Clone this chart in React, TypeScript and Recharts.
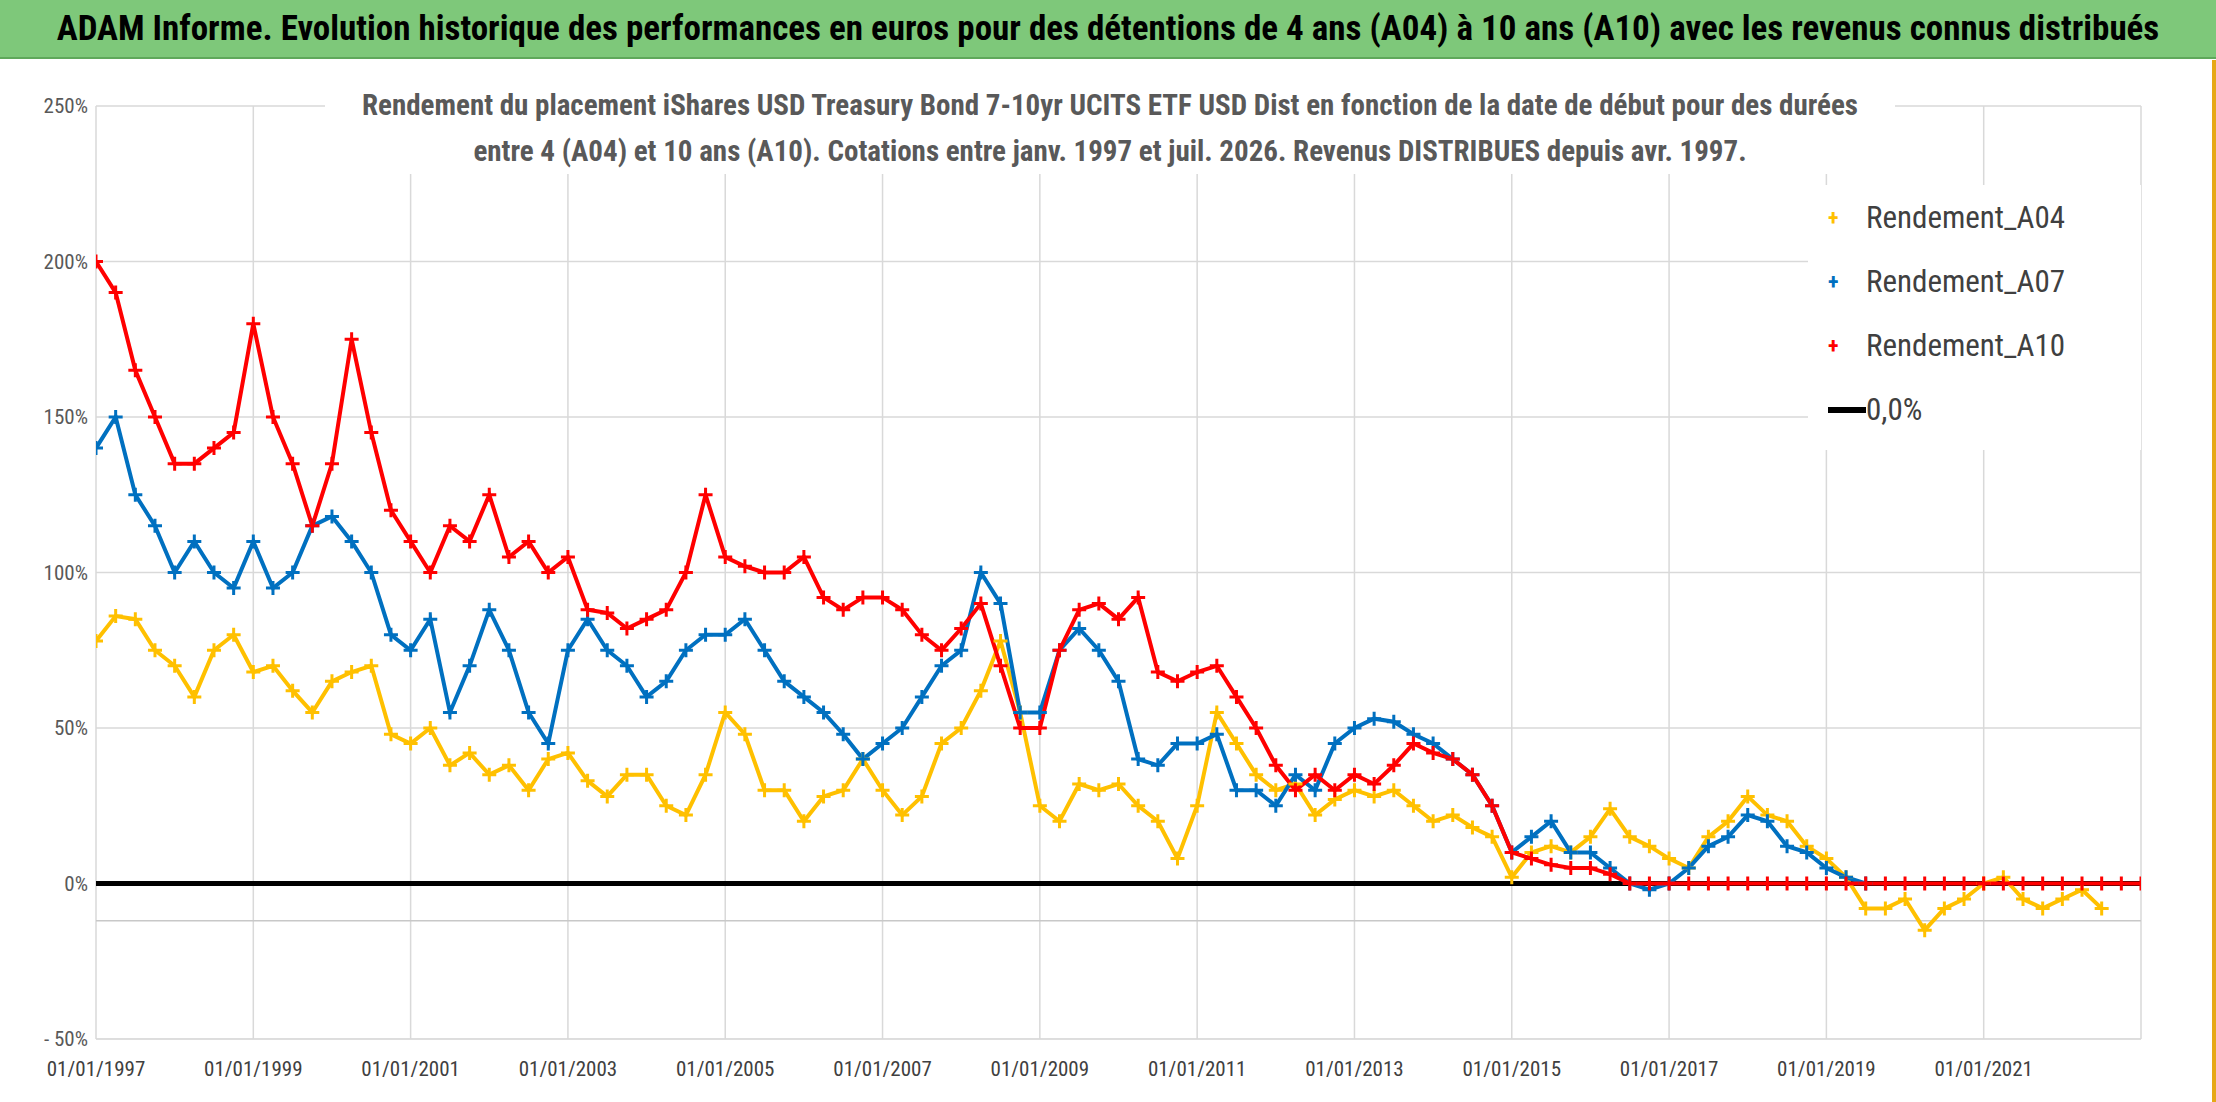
import React from "react";
import {
  ComposedChart,
  Line,
  XAxis,
  YAxis,
  CartesianGrid,
  ReferenceLine,
} from "recharts";

const yearTicks = [1997, 1999, 2001, 2003, 2005, 2007, 2009, 2011, 2013, 2015, 2017, 2019, 2021];
const pctTicks = [-50, 0, 50, 100, 150, 200, 250];

// quarterly values, starting 1997.0
const a04Values = [
  78, 86, 85, 75, 70, 60, 75, 80, 68, 70, 62, 55, 65, 68, 70, 48,
  45, 50, 38, 42, 35, 38, 30, 40, 42, 33, 28, 35, 35, 25, 22, 35,
  55, 48, 30, 30, 20, 28, 30, 40, 30, 22, 28, 45, 50, 62, 78, 55,
  25, 20, 32, 30, 32, 25, 20, 8, 25, 55, 45, 35, 30, 32, 22, 27,
  30, 28, 30, 25, 20, 22, 18, 15, 2, 10, 12, 10, 15, 24, 15, 12,
  8, 5, 15, 20, 28, 22, 20, 12, 8, 2, -8, -8, -5, -15, -8, -5,
  0, 2, -5, -8, -5, -2, -8,
];
const a07Values = [
  140, 150, 125, 115, 100, 110, 100, 95, 110, 95, 100, 115, 118, 110, 100, 80,
  75, 85, 55, 70, 88, 75, 55, 45, 75, 85, 75, 70, 60, 65, 75, 80,
  80, 85, 75, 65, 60, 55, 48, 40, 45, 50, 60, 70, 75, 100, 90, 55,
  55, 75, 82, 75, 65, 40, 38, 45, 45, 48, 30, 30, 25, 35, 30, 45,
  50, 53, 52, 48, 45, 40, 35, 25, 10, 15, 20, 10, 10, 5, 0, -2,
  0, 5, 12, 15, 22, 20, 12, 10, 5, 2, 0,
];
const a10Values = [
  200, 190, 165, 150, 135, 135, 140, 145, 180, 150, 135, 115, 135, 175, 145, 120,
  110, 100, 115, 110, 125, 105, 110, 100, 105, 88, 87, 82, 85, 88, 100, 125,
  105, 102, 100, 100, 105, 92, 88, 92, 92, 88, 80, 75, 82, 90, 70, 50,
  50, 75, 88, 90, 85, 92, 68, 65, 68, 70, 60, 50, 38, 30, 35, 30,
  35, 32, 38, 45, 42, 40, 35, 25, 10, 8, 6, 5, 5, 3, 0, 0,
  0, 0, 0, 0, 0, 0, 0, 0, 0, 0, 0, 0, 0, 0, 0, 0,
  0, 0, 0, 0, 0, 0, 0, 0, 0,
];

const toPoints = (vals: number[]) => vals.map((v, i) => ({ x: 1997 + i / 4, y: v }));

const font = "'Liberation Sans Narrow', 'Roboto Condensed', 'Open Sans', sans-serif";

const Plus = (color: string) => (props: any) => {
  const { cx, cy, index } = props;
  if (cx == null || cy == null) return <g key={index} />;
  return (
    <path
      key={index}
      d={`M${cx - 7},${cy}H${cx + 7}M${cx},${cy - 7}V${cy + 7}`}
      stroke={color}
      strokeWidth={3}
    />
  );
};

const series = [
  { name: "Rendement_A04", color: "#ffc000", data: toPoints(a04Values) },
  { name: "Rendement_A07", color: "#0070c0", data: toPoints(a07Values) },
  { name: "Rendement_A10", color: "#ff0000", data: toPoints(a10Values) },
];

export default function App() {
  return (
    <div style={{ position: "absolute", left: 0, top: 0, width: 2216, height: 1102, background: "#fff", fontFamily: font, overflow: "hidden" }}>
      <div style={{ position: "absolute", left: 0, top: 0, width: 2216, height: 57, background: "#7ec87a", borderBottom: "2px solid #5fa85b", display: "flex", alignItems: "center", justifyContent: "center", fontWeight: 700, fontSize: 35, color: "#000", whiteSpace: "nowrap" }}>
        ADAM Informe. Evolution historique des performances en euros pour des détentions de 4 ans (A04) à 10 ans (A10) avec les revenus connus distribués
      </div>
      <div style={{ position: "absolute", right: 0, top: 60, width: 4, height: 1042, background: "#e6a817" }} />
      <ComposedChart
        width={2216}
        height={1102}
        margin={{ top: 106, right: 75, bottom: 23, left: 16 }}
        style={{ position: "absolute", left: 0, top: 0 }}
      >
        <CartesianGrid stroke="#d9d9d9" strokeWidth={1.5} />
        <XAxis
          type="number"
          dataKey="x"
          domain={[1997, 2023]}
          allowDataOverflow
          ticks={yearTicks}
          tickFormatter={(v) => `01/01/${v}`}
          allowDuplicatedCategory={false}
          tick={{ fill: "#404040", fontSize: 21, fontFamily: font, dy: 14 }}
          axisLine={{ stroke: "#d9d9d9" }}
          tickLine={false}
          height={40}
        />
        <YAxis
          type="number"
          domain={[-50, 250]}
          ticks={pctTicks}
          tickFormatter={(v) => (v < 0 ? `- ${Math.abs(v)}%` : `${v}%`)}
          tick={{ fill: "#595959", fontSize: 21, fontFamily: font }}
          axisLine={false}
          tickLine={false}
          width={80}
        />
        <ReferenceLine y={-12} stroke="#c8c8c8" strokeWidth={1.5} />
        <ReferenceLine y={0} stroke="#000" strokeWidth={5} />
        {series.map((s) => (
          <Line
            key={s.name}
            data={s.data}
            dataKey="y"
            name={s.name}
            stroke={s.color}
            strokeWidth={4}
            dot={Plus(s.color)}
            isAnimationActive={false}
          />
        ))}
      </ComposedChart>
      <div style={{ position: "absolute", left: 325, top: 82, width: 1570, background: "#fff", textAlign: "center", fontSize: 29, color: "#595959", lineHeight: "46px", fontWeight: 700, whiteSpace: "nowrap" }}>
        Rendement du placement iShares USD Treasury Bond 7-10yr UCITS ETF USD Dist en fonction de la date de début pour des durées
        <br />
        entre 4 (A04) et 10 ans (A10). Cotations entre janv. 1997 et juil. 2026. Revenus DISTRIBUES depuis avr. 1997.
      </div>
      <div style={{ position: "absolute", left: 1808, top: 185, width: 333, height: 265, background: "#fff", fontSize: 31, color: "#404040" }}>
        {series.map((s, i) => (
          <div key={s.name} style={{ position: "absolute", left: 20, top: 14 + i * 64, display: "flex", alignItems: "center" }}>
            <span style={{ color: s.color, fontSize: 22, width: 38, fontWeight: 700 }}>+</span>
            {s.name}
          </div>
        ))}
        <div style={{ position: "absolute", left: 20, top: 206, display: "flex", alignItems: "center" }}>
          <span style={{ display: "inline-block", width: 38, height: 6, background: "#000" }} />
          0,0%
        </div>
      </div>
    </div>
  );
}
